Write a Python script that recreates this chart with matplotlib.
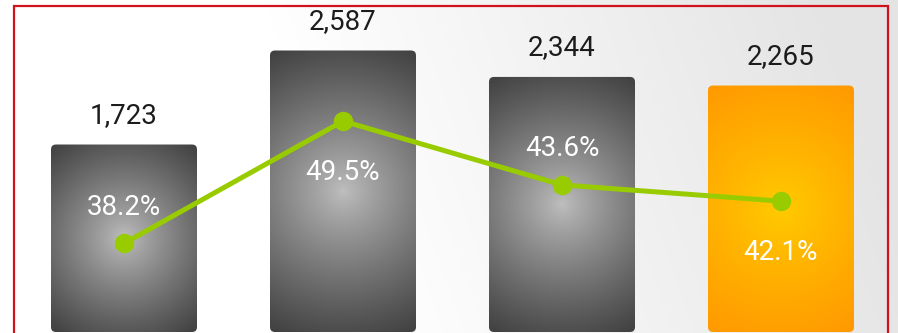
import matplotlib

matplotlib.use("Agg")

import matplotlib.pyplot as plt
import numpy as np
from matplotlib.patches import FancyBboxPatch, Rectangle

CATEGORIES = ["A", "B", "C", "D"]
VOLUMES = [1723, 2587, 2344, 2265]
SHARES = [38.2, 49.5, 43.6, 42.1]
SHARE_SIDE = ["above", "below", "above", "below"]

WIDTH_PX, HEIGHT_PX = 898, 333
DPI = 100
INK = "#1c1c1c"
LINE = "#99cc00"
BORDER = "#d0121c"
FONT = ["Roboto", "DejaVu Sans"]

GRAY_RAMP = ((0.75, 0.75, 0.75), (0.25, 0.25, 0.25))
ORANGE_RAMP = ((1.0, 0.80, 0.0), (1.0, 0.60, 0.0))


def radial_fill(w, h, ramp):
    yy, xx = np.mgrid[0:h, 0:w]
    cx, cy = (w - 1) / 2, (h - 1) / 2
    dist = np.hypot(xx - cx, yy - cy) / np.hypot(cx, cy)
    t = np.clip(dist, 0, 1)[..., None] ** 0.85
    inner, outer = np.array(ramp[0]), np.array(ramp[1])
    return inner * (1 - t) + outer * t


def background(fig):
    bg = fig.add_axes([0, 0, 1, 1], zorder=0)
    yy, xx = np.mgrid[0:HEIGHT_PX, 0:WIDTH_PX]
    t = np.clip((xx - 380 + 0.35 * (HEIGHT_PX - yy)) / 560, 0, 1)
    shade = 1 - 0.105 * t
    bg.imshow(np.dstack([shade] * 3), aspect="auto", extent=(0, 1, 0, 1))
    bg.set_axis_off()


fig = plt.figure(figsize=(WIDTH_PX / DPI, HEIGHT_PX / DPI), dpi=DPI)
background(fig)

ax = fig.add_axes([0, 1 / HEIGHT_PX, 1, (HEIGHT_PX - 1) / HEIGHT_PX], zorder=1)
ax.patch.set_visible(False)
x = np.arange(len(CATEGORIES))
slot = 219
xlim = (-124 / slot, (WIDTH_PX - 124) / slot)
ylim = (0, 3051)
ax.set_xlim(xlim)
ax.set_ylim(ylim)

px_per_x = WIDTH_PX / (xlim[1] - xlim[0])
px_per_y = (HEIGHT_PX - 1) / (ylim[1] - ylim[0])
aspect = px_per_x / px_per_y

bars = ax.bar(x, VOLUMES, width=146 / slot)
for i, rect in enumerate(bars):
    rect.set_visible(False)
    x0, y0 = rect.get_x(), rect.get_y()
    w, h = rect.get_width(), rect.get_height()
    shape = FancyBboxPatch(
        (x0, y0), w, h,
        boxstyle=f"round,pad=0,rounding_size={5 / px_per_x:.4f}",
        mutation_aspect=aspect,
        facecolor="none", edgecolor="none",
    )
    ax.add_patch(shape)
    ramp = ORANGE_RAMP if i == len(bars) - 1 else GRAY_RAMP
    fill = radial_fill(int(w * px_per_x), int(h * px_per_y), ramp)
    img = ax.imshow(fill, extent=(x0, x0 + w, y0, y0 + h), aspect="auto", zorder=2)
    img.set_clip_path(shape)
    ax.annotate(
        f"{VOLUMES[i]:,}", (x[i], VOLUMES[i]), xytext=(0, 21),
        textcoords="offset points", ha="center", va="center",
        fontsize=20, color=INK, family=FONT,
    )
ax.set_xlim(xlim)
ax.set_ylim(ylim)
ax.set_axis_off()

share_ax = ax.twinx()
share_ax.set_ylim(30, 60.7)
share_ax.plot(x, SHARES, color=LINE, linewidth=3.6, marker="o", markersize=13,
              solid_capstyle="round", zorder=3)
for i, share in enumerate(SHARES):
    offset = 26 if SHARE_SIDE[i] == "above" else -37
    share_ax.annotate(
        f"{share:.1f}%", (x[i], share), xytext=(0, offset),
        textcoords="offset points", ha="center", va="center",
        fontsize=20, color="white", family=FONT, zorder=4,
    )
share_ax.set_axis_off()

top = 1 - 6 / HEIGHT_PX
fig.patches.append(Rectangle(
    (14 / WIDTH_PX, -0.1), (888 - 14) / WIDTH_PX, top + 0.1,
    transform=fig.transFigure, fill=False, edgecolor=BORDER, linewidth=1.6,
    zorder=5,
))

fig.savefig("out.png", dpi=DPI)
